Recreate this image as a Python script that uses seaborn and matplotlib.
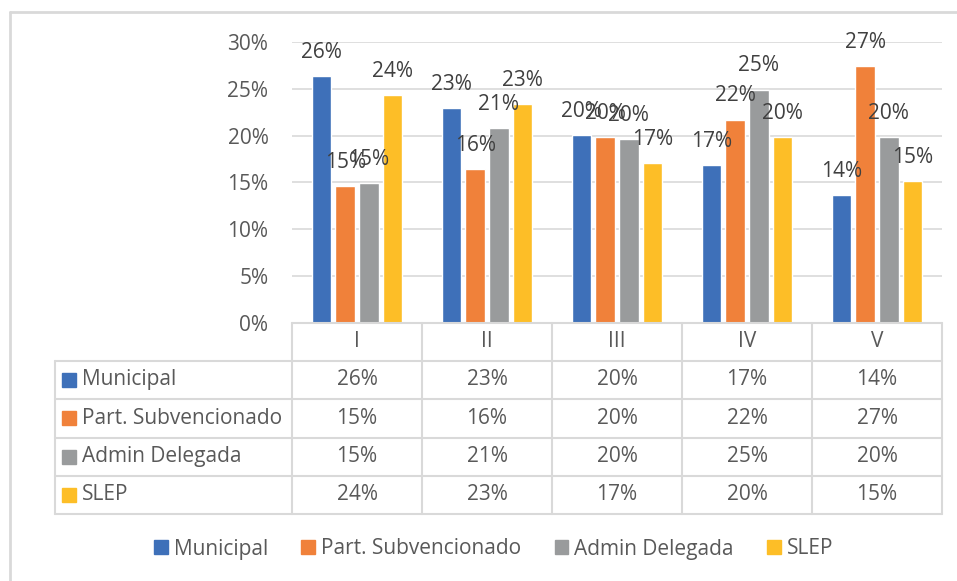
import pandas as pd
import matplotlib.pyplot as plt
import seaborn as sns
from matplotlib.lines import Line2D
from matplotlib.patches import Patch

# datos (proporciones)
niveles = ['I', 'II', 'III', 'IV', 'V']
tipos = ['Municipal', 'Part. Subvencionado', 'Admin Delegada', 'SLEP']
municipal = [0.263, 0.229, 0.201, 0.169, 0.137]
part_subv = [0.146, 0.164, 0.198, 0.217, 0.274]
admin_del = [0.149, 0.208, 0.196, 0.249, 0.198]
slep = [0.243, 0.234, 0.171, 0.198, 0.152]
colores = ['#3E70B9', '#F0813A', '#999B9C', '#FDBE27']

series = [municipal, part_subv, admin_del, slep]
df = pd.DataFrame([
    {'nivel': n, 'tipo': t, 'pct': v}
    for t, vals in zip(tipos, series)
    for n, v in zip(niveles, vals)
])

sns.set_style('white')
plt.rcParams['font.family'] = ['Open Sans', 'DejaVu Sans']
txt = '#595959'
grid = '#D9D9D9'
fs = 15

fig = plt.figure(figsize=(9.57, 5.81), dpi=100)
ax = fig.add_axes([292 / 957, (581 - 323.3) / 581, 650 / 957, 281.6 / 581])

sns.barplot(data=df, x='nivel', y='pct', hue='tipo', hue_order=tipos,
            palette=colores, saturation=1, width=0.73, gap=0.17,
            legend=False, ax=ax)

ax.set_xlim(-0.5, 4.5)
ax.set_ylim(0, 0.30)
ax.set_yticks([0, 0.05, 0.10, 0.15, 0.20, 0.25, 0.30])
ax.set_yticklabels([f'{t:.0%}' for t in ax.get_yticks()], fontsize=fs, color=txt)
ax.tick_params(axis='y', length=0, pad=17)
ax.set_xticks([])
ax.set_xlabel('')
ax.set_ylabel('')
for s in ax.spines.values():
    s.set_visible(False)
ax.yaxis.grid(True, color=grid, linewidth=1.2)
ax.set_axisbelow(True)

# etiquetas de datos
for cont, vals in zip(ax.containers, series):
    for bar, v in zip(cont, vals):
        ax.annotate(f'{v:.0%}', (bar.get_x() + bar.get_width() / 2, v),
                    xytext=(0, 17), textcoords='offset points',
                    ha='center', va='center', fontsize=fs,
                    color='#404040', annotation_clip=False)

# tabla de datos bajo el grafico
tr = ax.get_xaxis_transform()
x_izq = -0.5 - 237 / 130
filas_y = [(323.3 - p) / 281.6 for p in [323.3, 360.5, 399, 437.5, 476, 513.5]]
lw = 1.5

def linea(xs, ys):
    ax.add_line(Line2D(xs, ys, transform=tr, color=grid, lw=lw, clip_on=False))

for i in range(len(niveles) + 1):
    linea([i - 0.5, i - 0.5], [filas_y[0], filas_y[-1]])
linea([x_izq, x_izq], [filas_y[1], filas_y[-1]])
linea([-0.5, 4.5], [filas_y[0], filas_y[0]])
for y in filas_y[1:]:
    linea([x_izq, 4.5], [y, y])

for i, n in enumerate(niveles):
    ax.text(i, (filas_y[0] + filas_y[1]) / 2, n, transform=tr, ha='center',
            va='center', fontsize=fs, color=txt)

for r, (t, vals, c) in enumerate(zip(tipos, series, colores)):
    yc = (filas_y[r + 1] + filas_y[r + 2]) / 2
    ax.plot([x_izq + 14 / 130], [yc], marker='s', markersize=9.5, color=c,
            transform=tr, clip_on=False)
    ax.text(x_izq + 27 / 130, yc, t, transform=tr, ha='left', va='center',
            fontsize=fs, color=txt)
    for i, v in enumerate(vals):
        ax.text(i, yc, f'{v:.0%}', transform=tr, ha='center', va='center',
                fontsize=fs, color=txt)

# leyenda inferior
handles = [Patch(color=c, label=t) for t, c in zip(tipos, colores)]
fig.legend(handles=handles, loc='center', bbox_to_anchor=(0.516, 1 - 549 / 581),
           ncol=4, frameon=False, fontsize=fs, handlelength=0.65,
           handleheight=0.65, handletextpad=0.3, columnspacing=1.6,
           labelcolor=txt)

# borde exterior (solo izquierda y arriba visibles)
fig.add_artist(Line2D([10 / 957, 10 / 957], [0, 1 - 12 / 581],
                      transform=fig.transFigure, color=grid, lw=2))
fig.add_artist(Line2D([10 / 957, 1], [1 - 12 / 581, 1 - 12 / 581],
                      transform=fig.transFigure, color=grid, lw=2))

fig.savefig('out.png', dpi=100, facecolor='white')
